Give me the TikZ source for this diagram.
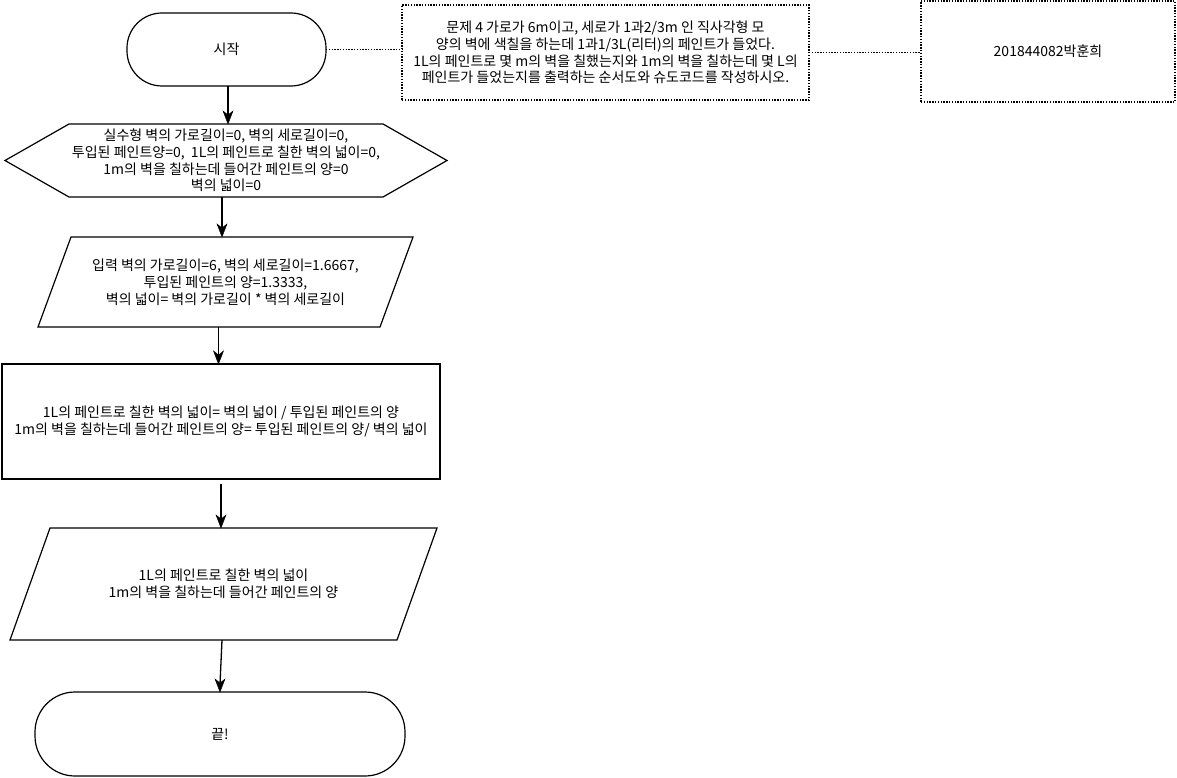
\documentclass[tikz,border=0pt]{standalone}
\usepackage{fontspec}
\setmainfont{Noto Sans CJK KR}
\usetikzlibrary {arrows,arrows.meta,positioning,shapes.misc}
\tikzset{terminal/.style={
    % The shape:
    rectangle,
    rounded corners=35pt,
    outer sep=0pt,
    % The border:
    line width=1.2pt,
    draw=black,
    % Font
    font=\fontsize{14}{16.8}\selectfont,
    align=center,
    },
    processbox/.style={
    rectangle,
    outer sep=0pt,
    line width=1.4pt,
    draw=black,
    font=\fontsize{14}{16.8}\selectfont,
    align=center,
    },
    % body of a hexagon or parallelogram, outline drawn afterwards
    shapebody/.style={
    rectangle,
    inner sep=0pt,
    outer sep=0pt,
    font=\fontsize{14}{16.8}\selectfont,
    align=center,
    },
    shapeline/.style={
    line width=1.2pt,
    },
    notebox/.style={
    rectangle,
    outer sep=0pt,
    line width=1.4pt,
    dash pattern=on 1.4pt off 1.4pt,
    draw=black,
    font=\fontsize{14}{16.8}\selectfont,
    align=center,
    },
    flowarrow/.style={
    line width=1.3pt,
    },
    flowhead/.style={
    fill=black,
    draw=black,
    line width=0.4pt,
    line join=miter,
    },
    notelink/.style={
    line width=1.4pt,
    dash pattern=on 1.4pt off 1.4pt,
    },
}

\begin{document}
\begin{tikzpicture}[x=1pt, y=1pt]
    \useasboundingbox (0,0) rectangle (1177,-778);
    \fill[white] (0,0) rectangle (1177,-778);
    \node (start)   [terminal, minimum width=199pt, minimum height=73pt] at (226.5,-49.5) {시작};
    \node (problem) [notebox, minimum width=407pt, minimum height=95pt] at (605.5,-52.5)
        {문제 4 가로가 6m이고, 세로가 1과2/3m 인 직사각형 모\\
         양의 벽에 색칠을 하는데 1과1/3L(리터)의 페인트가 들었다.\\
         1L의 페인트로 몇 m의 벽을 칠했는지와 1m의 벽을 칠하는데 몇 L의\\
         페인트가 들었는지를 출력하는 순서도와 슈도코드를 작성하시오.};
    \node (student) [notebox, minimum width=254pt, minimum height=101pt] at (1048,-51.5) {201844082박훈희};
    \node (init)    [shapebody, minimum width=314pt, minimum height=73pt, below=38pt of start, xshift=-0.5pt]
        {실수형 벽의 가로길이=0, 벽의 세로길이=0,\\
         투입된 페인트양=0,\ \ 1L의 페인트로 칠한 벽의 넓이=0,\\
         1m의 벽을 칠하는데 들어간 페인트의 양=0\\
         벽의 넓이=0};
    \node (input)   [shapebody, minimum width=342pt, minimum height=90pt, below=40pt of init, xshift=-0.5pt]
        {입력 벽의 가로길이=6, 벽의 세로길이=1.6667,\\
         투입된 페인트의 양=1.3333,\\
         벽의 넓이= 벽의 가로길이 * 벽의 세로길이};
    \node (calc)    [processbox, minimum width=438pt, minimum height=115pt, below=37pt of input, xshift=-4.5pt]
        {1L의 페인트로 칠한 벽의 넓이= 벽의 넓이 / 투입된 페인트의 양\\
         1m의 벽을 칠하는데 들어간 페인트의 양= 투입된 페인트의 양/ 벽의 넓이};
    \node (output)  [shapebody, minimum width=387pt, minimum height=112pt, below=49pt of calc, xshift=2.5pt]
        {1L의 페인트로 칠한 벽의 넓이\\
         1m의 벽을 칠하는데 들어간 페인트의 양};
    \node (finish)  [terminal, rounded corners=40pt, minimum width=370pt, minimum height=84pt, below=52pt of output, xshift=-3.5pt] {끝!};

    % hexagon round init, parallelograms round input and output
    \draw[shapeline] (init.north west) -- (init.north east) -- ([xshift=64pt]init.east)
        -- (init.south east) -- (init.south west) -- ([xshift=-64pt]init.west) -- cycle;
    \draw[shapeline] ([xshift=16.5pt]input.north west) -- ([xshift=16.5pt]input.north east)
        -- ([xshift=-16.5pt]input.south east) -- ([xshift=-16.5pt]input.south west) -- cycle;
    \draw[shapeline] ([xshift=20pt]output.north west) -- ([xshift=20pt]output.north east)
        -- ([xshift=-20pt]output.south east) -- ([xshift=-20pt]output.south west) -- cycle;

    \coordinate (startfoot)  at ([xshift=1.5pt]start.south);
    \coordinate (initfoot)   at ([xshift=-4pt]init.south);
    \coordinate (inputfoot)  at ([xshift=-7pt]input.south);
    \coordinate (calcfoot)   at ([yshift=-5pt]calc.south);
    \coordinate (outputfoot) at ([xshift=-1.5pt]output.south);
    \coordinate (inittop)    at (startfoot |- init.north);
    \coordinate (inputtop)   at (initfoot |- input.north);
    \coordinate (calctop)    at (inputfoot |- calc.north);
    \coordinate (outputtop)  at (calcfoot |- output.north);
    \coordinate (finishtop)  at (finish.north);
    \draw[flowarrow] (startfoot) -- ([yshift=8pt]inittop);
    \draw[flowarrow] (initfoot) -- ([yshift=8pt]inputtop);
    \draw[flowarrow] (inputfoot) -- ([yshift=8pt]calctop);
    \draw[flowarrow] (calcfoot) -- ([yshift=8pt]outputtop);
    \draw[flowarrow] (outputfoot) -- ([yshift=8pt]finishtop);
    % arrow heads
    \foreach \tip in {inittop,inputtop,calctop,outputtop,finishtop}
        \filldraw[flowhead] ([xshift=-5pt,yshift=13pt]\tip) -- (\tip)
            -- ([xshift=5pt,yshift=13pt]\tip) -- ([yshift=9pt]\tip) -- cycle;

    \draw[notelink] (start.east) -- (start.east -| problem.west);
    \draw[notelink] (problem.east) -- (problem.east -| student.west);
  \end{tikzpicture}
\end{document}
